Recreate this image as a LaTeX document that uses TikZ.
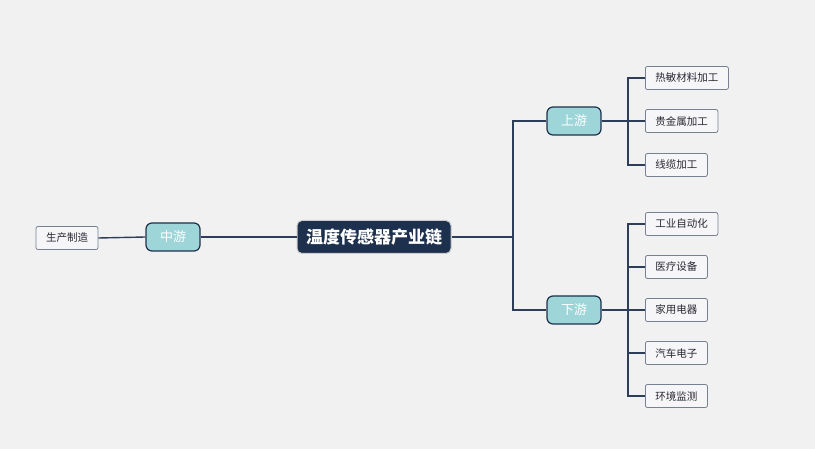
\documentclass[tikz,border=0pt]{standalone}
\usepackage{fontspec}
\setmainfont{Noto Sans CJK SC}
\definecolor{ln}{RGB}{46,62,88}
\definecolor{navy}{RGB}{29,49,78}
\definecolor{teal}{RGB}{157,213,216}
\definecolor{bg}{RGB}{241,241,241}
\definecolor{lb}{RGB}{120,128,145}
\definecolor{lf}{RGB}{246,246,248}
\definecolor{lt}{RGB}{40,40,50}
\begin{document}
\begin{tikzpicture}[x=1pt,y=-1pt,
  root/.style={draw=gray!40, line width=1pt, fill=navy, rounded corners=5pt, text=white, font=\bfseries\fontsize{17}{20}\selectfont, minimum height=33pt, inner xsep=9pt},
  mid/.style={draw=navy, line width=1.2pt, fill=teal, rounded corners=6pt, text=white, font=\fontsize{13}{15}\selectfont, minimum width=54pt, minimum height=28pt},
  leaf/.style={draw=lb, line width=0.8pt, fill=lf, rounded corners=2pt, text=lt, font=\fontsize{10.5}{12}\selectfont, minimum height=23pt, inner xsep=10pt, anchor=west}]
\fill[bg] (0,0) rectangle (815,449);
\useasboundingbox (0,0) rectangle (815,449);
\node[root] (r) at (374,237) {温度传感器产业链};
\node[mid] (u) at (574,121) {上游};
\node[mid] (d) at (574,310) {下游};
\node[mid] (m) at (173,237) {中游};
\node[leaf,anchor=center] (p) at (67,238) {生产制造};
\node[leaf] (a1) at (645,78) {热敏材料加工};
\node[leaf] (a2) at (645,121) {贵金属加工};
\node[leaf] (a3) at (645,165) {线缆加工};
\node[leaf] (b1) at (645,224) {工业自动化};
\node[leaf] (b2) at (645,267) {医疗设备};
\node[leaf] (b3) at (645,310) {家用电器};
\node[leaf] (b4) at (645,353) {汽车电子};
\node[leaf] (b5) at (645,396) {环境监测};
\coordinate (j) at (513,237);
\coordinate (ju) at (628,121);
\coordinate (jd) at (628,310);
\begin{scope}[draw=ln, line width=1.4pt]
\draw (r.east) -- (j);
\draw (j) |- (u.west);
\draw (j) |- (d.west);
\draw (r.west) -- (m.east);
\draw (m.west) -- (p.east);
\draw (u.east) -- (ju);
\draw (d.east) -- (jd);
\foreach \n in {a1,a2,a3} \draw (ju) |- (\n.west);
\foreach \n in {b1,b2,b3,b4,b5} \draw (jd) |- (\n.west);
\end{scope}
\end{tikzpicture}
\end{document}
